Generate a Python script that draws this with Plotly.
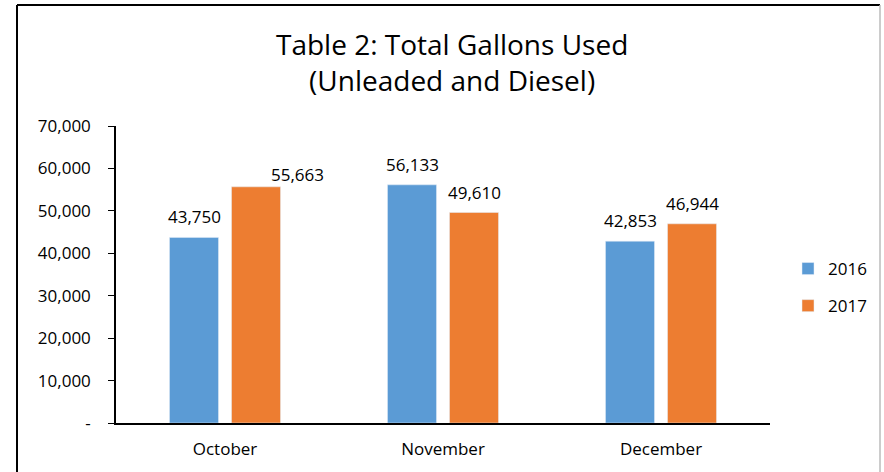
import plotly.graph_objects as go

months = ["October", "November", "December"]
v2016 = [43750, 56133, 42853]
v2017 = [55663, 49610, 46944]
series_names = ["2016", "2017"]
tick_vals = [0, 10000, 20000, 30000, 40000, 50000, 60000, 70000]
tick_text = ["-", "10,000", "20,000", "30,000", "40,000", "50,000", "60,000", "70,000"]
title_text = "Table 2: Total Gallons Used<br>(Unleaded and Diesel)"

FONT = "Open Sans"
W, H = 884, 472
L, R, T, B = 116, 114, 126, 49
pw, ph = W - L - R, H - T - B

def px(x):
    return (x - L) / pw

def py(y):
    return (H - B - y) / ph

fig = go.Figure()
# (name, values, colour, label x-shifts, label y-shifts)
series = [
    (series_names[0], v2016, "#5b9bd5", [-31, -31, -31], [7, 7, 7]),
    (series_names[1], v2017, "#ed7d31", [72, 31, 31], [-1, 7, 7]),
]
for name, vals, col, _, _ in series:
    fig.add_trace(go.Bar(x=months, y=vals, name=name, marker_color=col,
                         legendgroup=name))

# data labels above bars
for name, vals, col, dxs, dys in series:
    for m, v, dx, dy in zip(months, vals, dxs, dys):
        fig.add_annotation(x=m, y=v, xref="x", yref="y", text=f"{v:,}",
                           showarrow=False, xanchor="center", yanchor="bottom",
                           xshift=dx, yshift=dy,
                           font=dict(size=17, family=FONT, color="#000"))

fig.update_layout(
    width=W, height=H,
    margin=dict(l=L, r=R, t=T, b=B, autoexpand=False),
    paper_bgcolor="white", plot_bgcolor="white",
    barmode="group", bargap=0.431, bargroupgap=0.21,
    font=dict(family=FONT, color="#000"),
    legend=dict(xref="container", yref="container",
                x=788 / W, y=1 - 251 / H, xanchor="left", yanchor="top",
                font=dict(size=17, family=FONT), tracegroupgap=12,
                itemwidth=30),
    xaxis=dict(showline=True, linecolor="#000", linewidth=1.5, ticks="",
               tickfont=dict(size=17, family=FONT), ticklabelstandoff=10),
    yaxis=dict(range=[0, 70000], tickvals=tick_vals, ticktext=tick_text,
               showline=True, linecolor="#000", linewidth=1.5, ticks="outside",
               ticklen=6, tickcolor="#000", showgrid=False, zeroline=False,
               tickfont=dict(size=17, family=FONT), ticklabelstandoff=14),
    showlegend=True,
)

fig.add_annotation(text=title_text, xref="paper", yref="paper",
                   x=px(452), y=py(62), xanchor="center", yanchor="middle",
                   showarrow=False, font=dict(size=28, family=FONT, color="#000"))

fig.add_shape(type="line", xref="paper", yref="paper",
              x0=px(17), x1=px(17), y0=py(5), y1=py(480), line=dict(color="#000", width=2))
fig.add_shape(type="line", xref="paper", yref="paper",
              x0=px(17), x1=px(880), y0=py(5), y1=py(5), line=dict(color="#000", width=2))
fig.add_shape(type="line", xref="paper", yref="paper",
              x0=px(880), x1=px(880), y0=py(5), y1=py(480), line=dict(color="#bbb", width=1.5))

fig.write_html("out.html",
               config=dict(displayModeBar=False, responsive=False),
               post_script="document.body.style.margin='0';document.body.style.overflow='hidden';")
